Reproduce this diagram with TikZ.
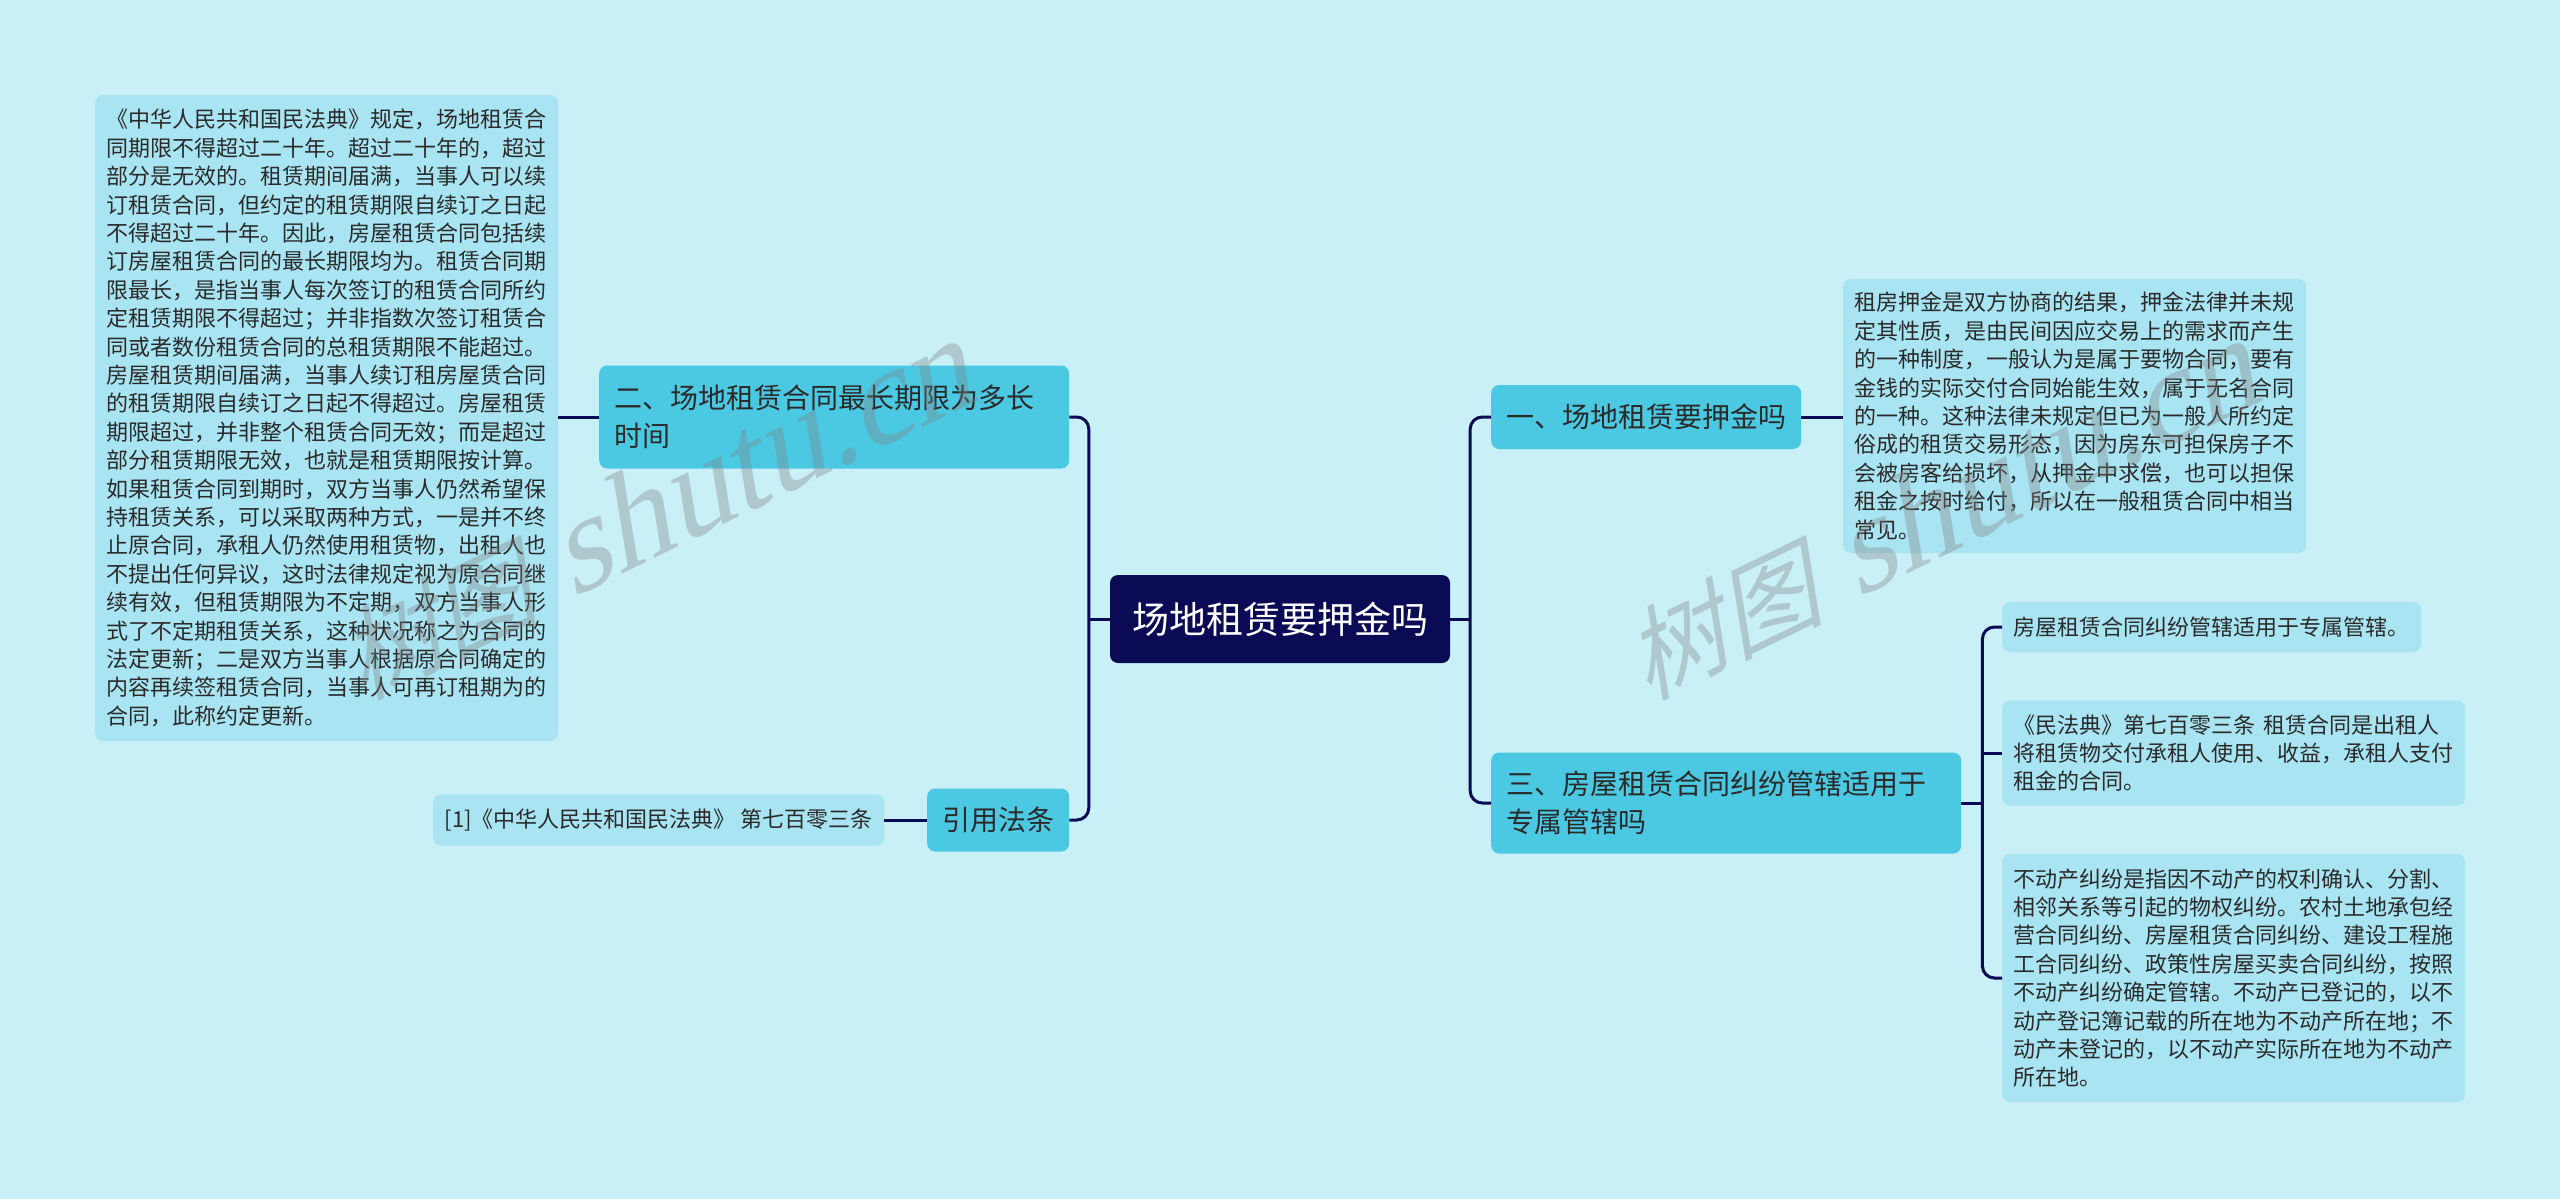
\documentclass[tikz,border=0pt]{standalone}
\usepackage{fontspec}
\setmainfont{Noto Sans CJK SC}
\newfontfamily\wmlatin{Liberation Serif}
\usetikzlibrary{positioning}
\definecolor{paper}{HTML}{C9EFF7}
\definecolor{navy}{HTML}{0B0B55}
\definecolor{topicfill}{HTML}{4CC9E2}
\definecolor{leaffill}{HTML}{A9E4F2}
\definecolor{ink}{HTML}{2A2A2A}
\newcommand\wmtext{\fontsize{100pt}{100pt}\selectfont 树图{\wmlatin\fontsize{135pt}{135pt}\selectfont\ shutu.cn}}
\tikzset{
  box/.style={rounded corners=8pt,inner ysep=0pt,align=left,text=ink,anchor=west},
  leaf/.style={box,fill=leaffill,inner xsep=11.5pt,font=\fontsize{22pt}{28.4pt}\selectfont},
  topic/.style={box,fill=topicfill,inner xsep=15pt,font=\fontsize{28pt}{37.5pt}\selectfont},
  link/.style={navy,line width=3pt,rounded corners=12pt},
  wmark/.style={gray,opacity=.35,anchor=base west,inner sep=0pt,rotate=26,xslant=.3}
}

\begin{document}
\begin{tikzpicture}[x=1pt,y=-1pt]
  \fill[paper] (0,0) rectangle (2560,1199);
  \useasboundingbox (0,0) rectangle (2560,1199);

  % centre
  \node[rounded corners=8pt,fill=navy,text=white,minimum width=340pt,minimum height=88pt,
        font=\fontsize{37pt}{44pt}\selectfont] (root) at (1280,619) {场地租赁要押金吗};

  % left side
  \node[topic,text width=440pt,minimum height=103pt] (limit) at (599,417)
    {二、场地租赁合同最长期限为多长\\时间};
  \node[topic,minimum height=63pt] (cite) at (927,820) {引用法条};
  \node[leaf,text width=440pt,minimum height=646pt] (limittext) at (95,418)
    {《中华人民共和国民法典》规定，场地租赁合\\
     同期限不得超过二十年。超过二十年的，超过\\
     部分是无效的。租赁期间届满，当事人可以续\\
     订租赁合同，但约定的租赁期限自续订之日起\\
     不得超过二十年。因此，房屋租赁合同包括续\\
     订房屋租赁合同的最长期限均为。租赁合同期\\
     限最长，是指当事人每次签订的租赁合同所约\\
     定租赁期限不得超过；并非指数次签订租赁合\\
     同或者数份租赁合同的总租赁期限不能超过。\\
     房屋租赁期间届满，当事人续订租房屋赁合同\\
     的租赁期限自续订之日起不得超过。房屋租赁\\
     期限超过，并非整个租赁合同无效；而是超过\\
     部分租赁期限无效，也就是租赁期限按计算。\\
     如果租赁合同到期时，双方当事人仍然希望保\\
     持租赁关系，可以采取两种方式，一是并不终\\
     止原合同，承租人仍然使用租赁物，出租人也\\
     不提出任何异议，这时法律规定视为原合同继\\
     续有效，但租赁期限为不定期，双方当事人形\\
     式了不定期租赁关系，这种状况称之为合同的\\
     法定更新；二是双方当事人根据原合同确定的\\
     内容再续签租赁合同，当事人可再订租期为的\\
     合同，此称约定更新。};
  \node[leaf,minimum height=51pt] (citetext) at (433,820)
    {[1]《中华人民共和国民法典》 第七百零三条};

  % right side
  \node[topic,minimum height=64pt] (deposit) at (1491,417) {一、场地租赁要押金吗};
  \node[topic,text width=440pt,minimum height=101pt] (court) at (1491,803)
    {三、房屋租赁合同纠纷管辖适用于\\专属管辖吗};
  \node[leaf,text width=440pt,minimum height=274pt] (deposittext) at (1843,416)
    {租房押金是双方协商的结果，押金法律并未规\\
     定其性质，是由民间因应交易上的需求而产生\\
     的一种制度，一般认为是属于要物合同，要有\\
     金钱的实际交付合同始能生效，属于无名合同\\
     的一种。这种法律未规定但已为一般人所约定\\
     俗成的租赁交易形态，因为房东可担保房子不\\
     会被房客给损坏，从押金中求偿，也可以担保\\
     租金之按时给付，所以在一般租赁合同中相当\\
     常见。};
  \node[leaf,minimum height=50pt] (courta) at (2002,627) {房屋租赁合同纠纷管辖适用于专属管辖。};
  \node[leaf,text width=440pt,minimum height=105pt] (courtb) at (2002,753)
    {《民法典》第七百零三条 租赁合同是出租人\\
     将租赁物交付承租人使用、收益，承租人支付\\
     租金的合同。};
  \node[leaf,text width=440pt,minimum height=248pt] (courtc) at (2002,978)
    {不动产纠纷是指因不动产的权利确认、分割、\\
     相邻关系等引起的物权纠纷。农村土地承包经\\
     营合同纠纷、房屋租赁合同纠纷、建设工程施\\
     工合同纠纷、政策性房屋买卖合同纠纷，按照\\
     不动产纠纷确定管辖。不动产已登记的，以不\\
     动产登记簿记载的所在地为不动产所在地；不\\
     动产未登记的，以不动产实际所在地为不动产\\
     所在地。};

  % connectors
  \coordinate (lj) at ([xshift=-21pt]root.west);
  \coordinate (rj) at ([xshift=20pt]root.east);
  \coordinate (cj) at ([xshift=21pt]court.east);
  \draw[link] (limit.east) -| (lj) |- (cite.east);
  \draw[link] (root.west) -- (lj);
  \draw[link] (deposit.west) -| (rj) |- (court.west);
  \draw[link] (root.east) -- (rj);
  \draw[link] (limit.west -| limittext.east) -- (limit.west);
  \draw[link] (citetext.east) -- (cite.west);
  \draw[link] (deposit.east) -- (deposit.east -| deposittext.west);
  \draw[link] (courta.west) -| (cj) |- (courtc.west);
  \draw[link] (court.east) -- (cj);
  \draw[link] (courtb.west -| cj) -- (courtb.west);

  % watermarks
  \node[wmark] (wmleft) at (362,701) {\wmtext};
  \node[wmark] (wmright) at (1647,701) {\wmtext};
\end{tikzpicture}
\end{document}
